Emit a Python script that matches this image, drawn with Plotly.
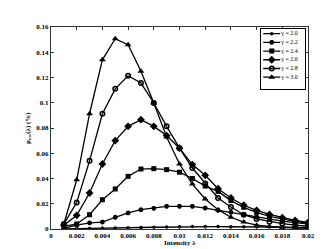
import plotly.graph_objects as go

x_vals = [0.001, 0.002, 0.003, 0.004, 0.005, 0.006, 0.007, 0.008, 0.009, 0.010,
          0.011, 0.012, 0.013, 0.014, 0.015, 0.016, 0.017, 0.018, 0.019, 0.020]

g20 = [0.0001, 0.0002, 0.0004, 0.0006, 0.0008, 0.0010, 0.0012, 0.0014, 0.0016, 0.0018,
       0.0019, 0.0019, 0.0019, 0.0018, 0.0018, 0.0017, 0.0016, 0.0015, 0.0014, 0.0013]
g22 = [0.0005, 0.0030, 0.0048, 0.0055, 0.0093, 0.0127, 0.0153, 0.0164, 0.0180, 0.0180,
       0.0180, 0.0166, 0.0148, 0.0132, 0.0116, 0.0095, 0.0078, 0.0063, 0.0050, 0.0040]
g24 = [0.0020, 0.0040, 0.0113, 0.0232, 0.0317, 0.0417, 0.0475, 0.0478, 0.0470, 0.0450,
       0.0400, 0.0340, 0.0298, 0.0225, 0.0172, 0.0132, 0.0100, 0.0078, 0.0060, 0.0045]
g26 = [0.0030, 0.0108, 0.0285, 0.0515, 0.0700, 0.0813, 0.0866, 0.0813, 0.0740, 0.0640,
       0.0510, 0.0425, 0.0319, 0.0246, 0.0188, 0.0148, 0.0115, 0.0090, 0.0068, 0.0052]
g28 = [0.0040, 0.0210, 0.0540, 0.0913, 0.1110, 0.1214, 0.1156, 0.0998, 0.0813, 0.0640,
       0.0483, 0.0360, 0.0246, 0.0174, 0.0113, 0.0080, 0.0058, 0.0042, 0.0030, 0.0022]
g30 = [0.0040, 0.0390, 0.0913, 0.1340, 0.1507, 0.1460, 0.1249, 0.0998, 0.0729, 0.0515,
       0.0356, 0.0238, 0.0153, 0.0093, 0.0055, 0.0030, 0.0020, 0.0012, 0.0008, 0.0005]

series_names = ["γ = 2.0", "γ = 2.2", "γ = 2.4", "γ = 2.6", "γ = 2.8", "γ = 3.0"]
series_values = [g20, g22, g24, g26, g28, g30]
symbols = ["circle", "asterisk-open", "square", "diamond", "circle-open", "triangle-up"]
sizes = [3.5, 4, 5, 6, 4.5, 6]

x_title = "Intensity λ"
y_title = "p<sub>uw</sub>(λ) (%)"

font_fam = "Liberation Serif, Times New Roman, serif"


def marker_for(sym, sz):
    return dict(symbol=sym, size=sz, color="black",
                line=dict(color="black", width=1.5 if "open" in sym else 0))


fig = go.Figure()
for name, vals, sym, sz in zip(series_names, series_values, symbols, sizes):
    fig.add_trace(go.Scatter(x=x_vals, y=vals, name=name, mode="lines+markers",
                             line=dict(color="black", width=1.3), marker=marker_for(sym, sz),
                             showlegend=False))

# custom compact legend drawn on its own small axes (box like the reference)
row_gap = 8.7
for i, (name, sym, sz) in enumerate(zip(series_names, symbols, sizes)):
    ry = 5 + row_gap * i
    fig.add_trace(go.Scatter(x=[2, 19], y=[ry, ry], mode="lines", line=dict(color="black", width=1.3),
                             xaxis="x2", yaxis="y2", showlegend=False, hoverinfo="skip"))
    fig.add_trace(go.Scatter(x=[10.5], y=[ry], mode="markers", marker=marker_for(sym, sz),
                             xaxis="x2", yaxis="y2", showlegend=False, hoverinfo="skip"))
    fig.add_trace(go.Scatter(x=[20], y=[ry], mode="text", text=[name], textposition="middle right",
                             textfont=dict(family=font_fam, size=6, color="black"),
                             xaxis="x2", yaxis="y2", showlegend=False, hoverinfo="skip"))

axis_common = dict(showline=True, linecolor="#333", linewidth=1, mirror="ticks",
                   ticks="inside", ticklen=3, tickcolor="#333", showgrid=False, zeroline=False,
                   tickfont=dict(family=font_fam, size=7, color="black", weight="bold"))

title_font = dict(family=font_fam, size=7, color="black", weight="bold")

fig.update_layout(
    width=332, height=249,
    margin=dict(l=43, r=32, t=19, b=28),
    paper_bgcolor="white", plot_bgcolor="white",
    xaxis=dict(range=[-0.0000001, 0.02], tick0=0, dtick=0.002, **axis_common),
    yaxis=dict(range=[0, 0.16], tick0=0, dtick=0.02, **axis_common),
    xaxis2=dict(domain=[0.818, 0.987], range=[0, 43.4], anchor="y2", showline=True, mirror=True,
                linecolor="black", linewidth=1, showticklabels=False, ticks="", showgrid=False, zeroline=False),
    yaxis2=dict(domain=[0.693, 0.992], range=[60.3, 0], anchor="x2", showline=True, mirror=True,
                linecolor="black", linewidth=1, showticklabels=False, ticks="", showgrid=False, zeroline=False),
    showlegend=False,
    annotations=[
        dict(text=x_title, xref="paper", yref="paper", x=0.5, y=0, xanchor="center", yanchor="top",
             yshift=-8, showarrow=False, font=title_font),
        dict(text=y_title, xref="paper", yref="paper", x=0, y=0.5, xanchor="center", yanchor="middle",
             xshift=-23, textangle=-90, showarrow=False, font=title_font),
    ],
)

fig.write_html("out.html")
